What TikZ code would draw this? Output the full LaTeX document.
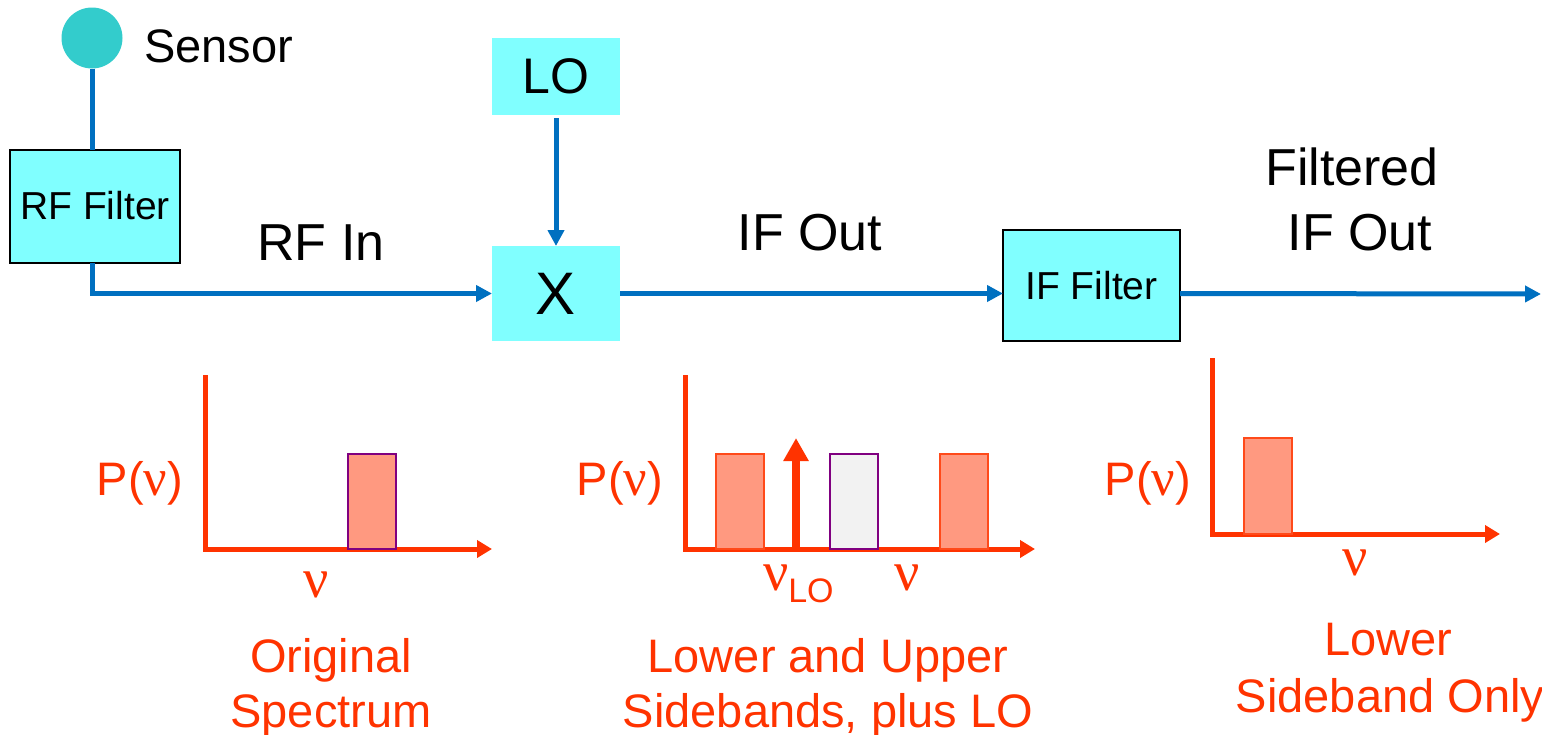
\documentclass[tikz,border=0pt]{standalone}
\usepackage{fontspec}
\setmainfont{Liberation Sans}
\newfontfamily\nufont{Liberation Serif}
\usetikzlibrary{arrows.meta}
\definecolor{boxcyan}{HTML}{80FFFF}
\definecolor{sensorcol}{HTML}{33CCCC}
\definecolor{wireblue}{HTML}{0070C0}
\definecolor{specred}{HTML}{FF3300}
\definecolor{salmon}{HTML}{FF9980}
\definecolor{bandgray}{HTML}{F2F2F2}
\definecolor{bandpurple}{HTML}{800080}
\definecolor{bandedge}{HTML}{FF4A1A}
\newcommand{\nusym}{{\nufont\fontsize{26}{28}\selectfont ν}}
\begin{document}
\begin{tikzpicture}[x=0.5pt,y=-0.5pt,
  every node/.style={inner sep=0pt, outer sep=0pt},
  blockbox/.style={fill=boxcyan, text=black},
  filterbox/.style={blockbox, draw=black, line width=1pt},
  wire/.style={draw=wireblue, line width=2.5pt},
  wirearrow/.style={wire, -{Triangle[length=8pt,width=8pt]}},
  axis/.style={draw=specred, line width=2.5pt, line join=miter, -{Triangle[length=7.5pt,width=8.5pt]}},
  sideband/.style={fill=salmon, draw=bandedge, line width=1pt},
  rfband/.style={fill=salmon, draw=bandpurple, line width=1pt},
  imageband/.style={fill=bandgray, draw=bandpurple, line width=1pt},
  loline/.style={draw=specred, line width=4pt, -{Triangle[length=11.5pt,width=12pt]}},
  bigtext/.style={font=\fontsize{26}{30}\selectfont},
  boxtext/.style={font=\fontsize{19.5}{23}\selectfont},
  redtext/.style={text=specred, font=\fontsize{23.5}{27}\selectfont},
  nutext/.style={text=specred, font=\fontsize{28}{30}\selectfont\nufont}
]
\useasboundingbox (0,0) rectangle (1542,734);

% ---- block diagram ----
\node[circle, fill=sensorcol, minimum size=30.5pt] (sensor) at (92,38) {};
\node[anchor=base west, font=\fontsize{23.5}{28}\selectfont] (sensorlbl) at (144,62) {Sensor};
\node[filterbox, boxtext, minimum width=85pt, minimum height=56.5pt] (rff) at (95,206) {RF Filter};
\node[blockbox, font=\fontsize{25}{30}\selectfont, minimum width=64pt, minimum height=38.5pt] (lo) at (556,76.5) {LO};
\node[blockbox, font=\fontsize{30}{36}\selectfont, minimum width=64pt, minimum height=47.5pt] (mix) at (556,293.5) {X};
\node[filterbox, boxtext, minimum width=88.5pt, minimum height=55.5pt] (iff) at (1091.5,285.5) {IF Filter};
\coordinate (out) at (1541,294);

\draw[wire] (sensor.south) -- (sensor.south |- rff.north);
\draw[wirearrow] (sensor.south |- rff.south) -- (sensor.south |- mix.west) -- (mix.west);
\draw[wirearrow, shorten <=1.5pt] (lo.south) -- (mix.north);
\draw[wirearrow] (mix.east) -- (mix.east -| iff.west);
\draw[wirearrow] (iff.east |- mix.east) -- (out);

\node[bigtext, anchor=base] (rfin) at (321,260) {RF In};
\node[bigtext, anchor=base] (ifout) at (810,250) {IF Out};
\node[bigtext, anchor=base] (filt1) at (1352,185) {Filtered};
\node[bigtext, anchor=base] (filt2) at (1360,250) {IF Out};

% ---- spectrum 1: original ----
\draw[axis] (205,375) -- (205,549) -- (492,549);
\draw[rfband] (348,454) rectangle (396,549);
\node[redtext, anchor=base] (p1) at (140,495) {P(\nusym)};
\node[nutext, anchor=base] (nu1) at (316,597) {ν};
\node[redtext, anchor=base] (o1) at (331,672) {Original};
\node[redtext, anchor=base] (o2) at (331,727) {Spectrum};

% ---- spectrum 2: mixer output ----
\draw[axis] (685,375) -- (685,549) -- (1035,549);
\draw[sideband] (716,454) rectangle (764,549);
\draw[imageband] (830,454) rectangle (878,549);
\draw[sideband] (940,454) rectangle (988,549);
\draw[loline] (796,549) -- (796,438);
\node[redtext, anchor=base] (p2) at (620,495) {P(\nusym)};
\node[nutext, anchor=base west] (nulo) at (763,590) {ν\raisebox{-6pt}{\normalfont\fontsize{17}{18}\selectfont LO}};
\node[nutext, anchor=base] (nu2) at (907,590) {ν};
\node[redtext, anchor=base] (s1) at (828,672) {Lower and Upper};
\node[redtext, anchor=base] (s2) at (828,727) {Sidebands, plus LO};

% ---- spectrum 3: filtered ----
\draw[axis] (1212,358) -- (1212,534) -- (1500,534);
\draw[sideband] (1244,438) rectangle (1292,534);
\node[redtext, anchor=base] (p3) at (1148,495) {P(\nusym)};
\node[nutext, anchor=base] (nu3) at (1355,575) {ν};
\node[redtext, anchor=base] (l1) at (1388,655) {Lower};
\node[redtext, anchor=base] (l2) at (1390,712) {Sideband Only};
\end{tikzpicture}
\end{document}
